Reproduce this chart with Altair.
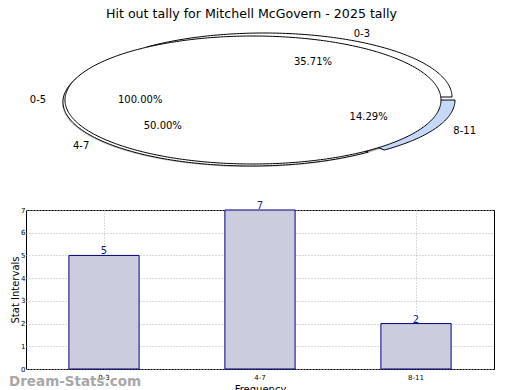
import altair as alt
import numpy as np
import pandas as pd

# ---------------- data ----------------
title_text = "Hit out tally for Mitchell McGovern - 2025 tally"
categories = ["0-3", "4-7", "8-11"]
counts = [5, 7, 2]
pct_labels = ["35.71%", "50.00%", "14.29%"]
whole_label = "0-5"
whole_pct = "100.00%"
watermark = "Dream-Stats.com"

# ---------------- styling / layout ----------------
FONT = "DejaVu Sans"
RX, RY = 188.0, 64.0          # pixels per unit radius (x, y)
PIE_W, PIE_H = 468, 170
CX_PX, CY_PX = 227.0, 75.0    # pie centre inside the pie panel
slice_fill = {"0-3": "#ffffff", "4-7": "#ffffff", "8-11": "#c6d9f8"}
explode_px = {"0-3": (11, 3), "4-7": (-2, -2), "8-11": (14, 0)}
shadow_px = (-3, -3)

xdom = [-CX_PX / RX, (PIE_W - CX_PX) / RX]
ydom = [-(PIE_H - CY_PX) / RY, CY_PX / RY]

total = sum(counts)
fracs = [c / total for c in counts]
ends = np.cumsum(fracs) * 360.0
starts = np.concatenate([[0.0], ends[:-1]])


def wedge(a0, a1, ox, oy, closed_center=True):
    pts = []
    if closed_center:
        pts.append((ox, oy))
    n = max(int(abs(a1 - a0)), 2) + 1
    for t in np.linspace(a0, a1, n):
        r = np.deg2rad(t)
        pts.append((ox + np.cos(r), oy + np.sin(r)))
    return pd.DataFrame({"x": [p[0] for p in pts], "y": [p[1] for p in pts],
                         "i": list(range(len(pts)))})


xs = alt.X("x:Q", scale=alt.Scale(domain=xdom, nice=False, zero=False), axis=None)
ys = alt.Y("y:Q", scale=alt.Scale(domain=ydom, nice=False, zero=False), axis=None)


def poly_layer(df, fill, stroke="black", opacity=1.0, sw=1.0):
    kw = dict(interpolate="linear-closed", fill=fill, fillOpacity=opacity,
              strokeWidth=sw)
    kw["stroke"] = stroke if stroke is not None else "transparent"
    return alt.Chart(df).mark_line(**kw).encode(x=xs, y=ys, order="i:Q")


layers = []
# soft shadow of the whole pie
layers.append(poly_layer(wedge(0, 360, shadow_px[0] / RX, shadow_px[1] / RY, False),
                         "#888888", None, 0.5))
layers.append(poly_layer(wedge(0, 360, -1.5 / RX, -1.5 / RY, False),
                         "#555555", None, 0.7))
# exploded slices (drawn under the full pie)
order = ["4-7", "0-3", "8-11"]
for name in order:
    k = categories.index(name)
    dx, dy = explode_px[name]
    layers.append(poly_layer(wedge(starts[k], ends[k], dx / RX, dy / RY),
                             slice_fill[name]))
# full pie
layers.append(poly_layer(wedge(0, 360, 0, 0, False), "#ffffff"))

# labels
lab_rows = []
for k, name in enumerate(categories):
    mid = np.deg2rad((starts[k] + ends[k]) / 2)
    dx, dy = explode_px[name]
    ox, oy = dx / RX, dy / RY
    lx, ly = ox + 1.1 * np.cos(mid), oy + 1.1 * np.sin(mid)
    lab_rows.append({"x": lx, "y": ly, "t": name,
                     "a": "left" if np.cos(mid) > 0 else "right"})
    lab_rows.append({"x": ox + 0.6 * np.cos(mid), "y": oy + 0.6 * np.sin(mid),
                     "t": pct_labels[k], "a": "center"})
lab_rows.append({"x": -1.1, "y": 0.0, "t": whole_label, "a": "right"})
lab_rows.append({"x": -0.6, "y": 0.0, "t": whole_pct, "a": "center"})
lab_df = pd.DataFrame(lab_rows)
for a in ["left", "right", "center"]:
    sub = lab_df[lab_df["a"] == a]
    layers.append(alt.Chart(sub).mark_text(align=a, baseline="middle", fontSize=10,
                                           font=FONT, color="black")
                  .encode(x=xs, y=ys, text="t:N"))

pie = alt.layer(*layers).properties(width=PIE_W, height=PIE_H,
                                    view=alt.ViewBackground(stroke=None))

# ---------------- bar chart ----------------
bar_df = pd.DataFrame({"cat": categories, "count": counts})
bx = alt.X("cat:N", sort=categories,
           scale=alt.Scale(paddingInner=0, paddingOuter=0),
           axis=alt.Axis(title="Frequency", labelAngle=0, labelFontSize=7,
                         labelColor="black", labelPadding=4, grid=True,
                         gridDash=[1, 2], gridColor="#b4b4b4", bandPosition=0.5,
                         ticks=False, domain=False, titleFontSize=10,
                         titleFontWeight="normal", titleColor="black",
                         titlePadding=4, labelFont=FONT, titleFont=FONT))
by = alt.Y("count:Q", scale=alt.Scale(domain=[0, 7], nice=False),
           axis=alt.Axis(title="Stat Intervals", values=list(range(8)),
                         labelFontSize=7, labelColor="black", labelPadding=1,
                         grid=True, gridDash=[1, 2], gridColor="#b4b4b4",
                         ticks=False, domain=False, titleFontSize=10,
                         titleFontWeight="normal", titleColor="black",
                         titlePadding=0, labelFont=FONT, titleFont=FONT))
bars = alt.Chart(bar_df).mark_bar(width=alt.RelativeBandSize(0.45), fill="#ccccdf",
                                  stroke="#000080", strokeWidth=1).encode(x=bx, y=by)
vals = alt.Chart(bar_df).mark_text(baseline="bottom", dy=1, fontSize=10, font=FONT,
                                   color="#1a1a8c").encode(x=bx, y=by, text="count:Q")
wm = alt.Chart(pd.DataFrame({"t": [watermark]})).mark_text(
    align="left", baseline="middle", fontSize=13.5, fontWeight="bold", font=FONT,
    color="#a8a8a8").encode(x=alt.value(-17), y=alt.value(172), text="t:N")

barchart = alt.layer(bars, vals, wm).properties(
    width=468, height=159, view=alt.ViewBackground(stroke="black", strokeWidth=1))

chart = alt.vconcat(pie, barchart, spacing=5).properties(
    title=alt.TitleParams(title_text, fontSize=12.6, font=FONT, fontWeight="normal",
                          anchor="middle", offset=4, color="black"),
    padding=0,
).configure(font=FONT)

chart.save("out.html", embed_options={"renderer": "svg", "actions": False})
